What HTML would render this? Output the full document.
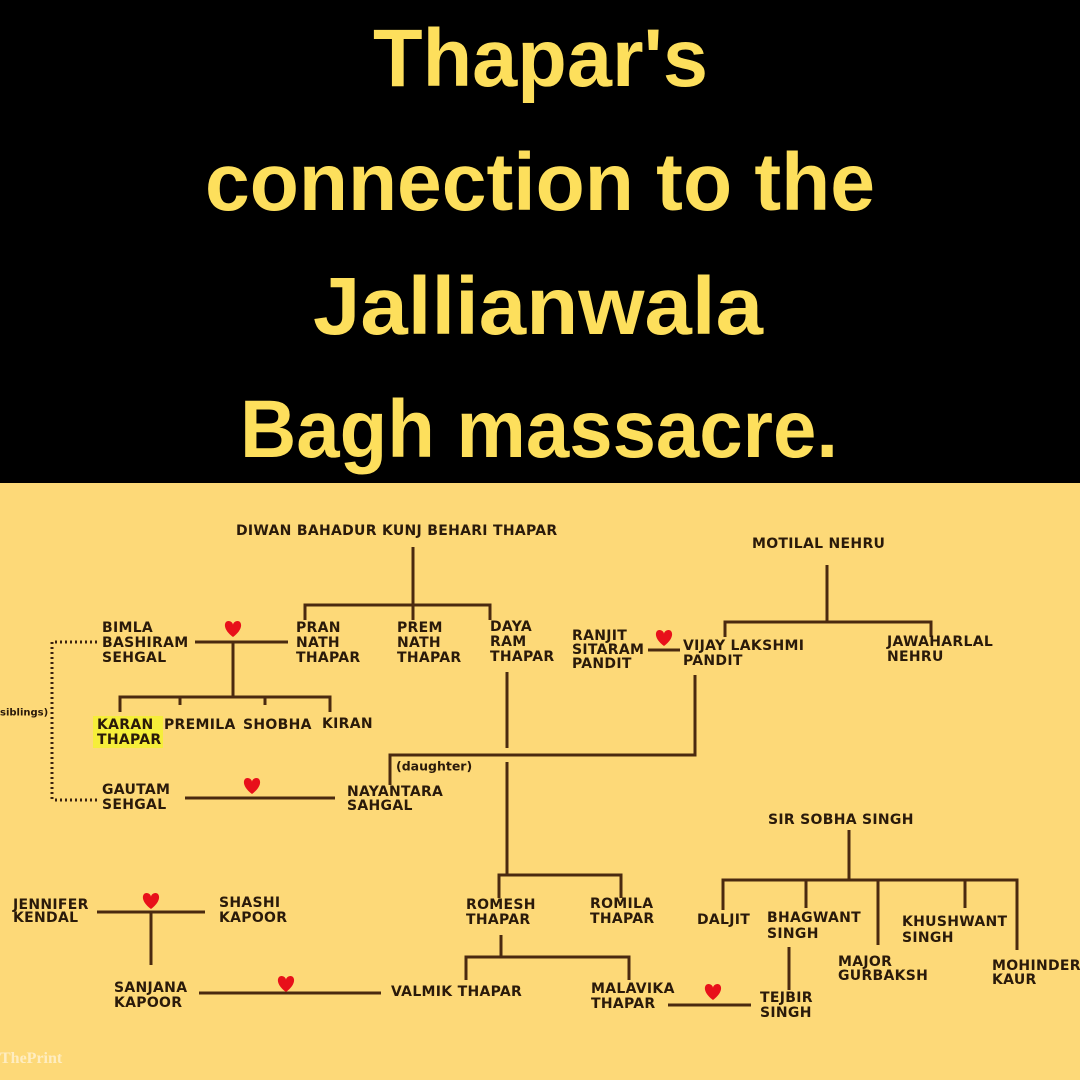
<!DOCTYPE html>
<html><head><meta charset="utf-8"><style>
html,body{margin:0;padding:0;width:1080px;height:1080px;overflow:hidden;background:#000}
svg{display:block}
.t{font-family:"Liberation Sans Narrow","Liberation Sans",sans-serif;font-weight:bold;fill:#fddf5c;font-size:82px}
.n{font-family:"DejaVu Sans","Liberation Sans",sans-serif;font-weight:bold;fill:#2a1a0a;font-size:14px;letter-spacing:0.3px}
.l{stroke:#4a2a10;stroke-width:3;fill:none}
</style></head><body>
<svg width="1080" height="1080" viewBox="0 0 1080 1080" xmlns="http://www.w3.org/2000/svg">
<rect x="0" y="0" width="1080" height="483" fill="#000"/>
<rect x="0" y="483" width="1080" height="597" fill="#fdd978"/>
<text class="t" x="373" y="86" textLength="335" lengthAdjust="spacingAndGlyphs">Thapar's</text>
<text class="t" x="205" y="210" textLength="670" lengthAdjust="spacingAndGlyphs">connection to the</text>
<text class="t" x="313" y="334" textLength="450" lengthAdjust="spacingAndGlyphs">Jallianwala</text>
<text class="t" x="240" y="457" textLength="598" lengthAdjust="spacingAndGlyphs">Bagh massacre.</text>

<defs><path id="h" d="M0,7 C-11,-1 -9,-9 -4.5,-9 C-2,-9 0,-7 0,-5 C0,-7 2,-9 4.5,-9 C9,-9 11,-1 0,7Z" fill="#e8101a"/></defs>

<g class="l">
<path d="M413,547V605M305,620V605H490V620M413,605V620"/>
<path d="M195,642H288M233,642V697M120,712V697H330V712M180,697V705M265,697V705"/>
<path d="M185,798H335"/>
<path d="M507,672V748M390,785V755H695V675M507,762V875M499,898V875H621V898"/>
<path d="M501,935V957M466,980V957H629V980"/>
<path d="M199,993H381M668,1005H751"/>
<path d="M97,912H205M151,912V965"/>
<path d="M827,565V622M725,637V622H931V637M648,650H680"/>
<path d="M849,830V880M723,910V880H1017V950M806,880V908M878,880V945M965,880V908M789,947V990"/>
</g>
<path d="M55,642H100M52,642V800M55,800H100" stroke="#3a2210" stroke-width="3" stroke-dasharray="2,3" fill="none"/>

<use href="#h" x="233" y="630"/>
<use href="#h" x="252" y="787"/>
<use href="#h" x="664" y="639"/>
<use href="#h" x="151" y="902"/>
<use href="#h" x="286" y="985"/>
<use href="#h" x="713" y="993"/>

<rect x="93" y="716" width="70" height="32" fill="#f6ee3a"/>
<g class="n" dominant-baseline="central">
<text x="236" y="531">DIWAN BAHADUR KUNJ BEHARI THAPAR</text>
<text x="296" y="628">PRAN</text><text x="296" y="643">NATH</text><text x="296" y="658">THAPAR</text>
<text x="397" y="628">PREM</text><text x="397" y="643">NATH</text><text x="397" y="658">THAPAR</text>
<text x="490" y="627">DAYA</text><text x="490" y="642">RAM</text><text x="490" y="657">THAPAR</text>
<text x="102" y="628">BIMLA</text><text x="102" y="643">BASHIRAM</text><text x="102" y="658">SEHGAL</text>
<text x="97" y="725">KARAN</text><text x="97" y="740">THAPAR</text>
<text x="164" y="725">PREMILA</text><text x="243" y="725">SHOBHA</text><text x="322" y="724">KIRAN</text>
<text x="0" y="713" style="font-size:10px;letter-spacing:0">siblings)</text>
<text x="102" y="790">GAUTAM</text><text x="102" y="805">SEHGAL</text>
<text x="347" y="792">NAYANTARA</text><text x="347" y="806">SAHGAL</text>
<text x="396" y="766" style="font-size:12.5px;letter-spacing:0">(daughter)</text>
<text x="752" y="544">MOTILAL NEHRU</text>
<text x="572" y="636">RANJIT</text><text x="572" y="650">SITARAM</text><text x="572" y="664">PANDIT</text>
<text x="683" y="646">VIJAY LAKSHMI</text><text x="683" y="661">PANDIT</text>
<text x="887" y="642">JAWAHARLAL</text><text x="887" y="657">NEHRU</text>
<text x="768" y="820">SIR SOBHA SINGH</text>
<text x="466" y="905">ROMESH</text><text x="466" y="920">THAPAR</text>
<text x="590" y="904">ROMILA</text><text x="590" y="919">THAPAR</text>
<text x="697" y="920">DALJIT</text>
<text x="767" y="918">BHAGWANT</text><text x="767" y="934">SINGH</text>
<text x="902" y="922">KHUSHWANT</text><text x="902" y="938">SINGH</text>
<text x="838" y="962">MAJOR</text><text x="838" y="976">GURBAKSH</text>
<text x="992" y="966">MOHINDER</text><text x="992" y="980">KAUR</text>
<text x="13" y="905">JENNIFER</text><text x="13" y="918">KENDAL</text>
<text x="219" y="903">SHASHI</text><text x="219" y="918">KAPOOR</text>
<text x="114" y="988">SANJANA</text><text x="114" y="1003">KAPOOR</text>
<text x="391" y="992">VALMIK THAPAR</text>
<text x="591" y="989">MALAVIKA</text><text x="591" y="1004">THAPAR</text>
<text x="760" y="998">TEJBIR</text><text x="760" y="1013">SINGH</text>
</g>
<text x="0" y="1063" font-family="Liberation Serif,serif" font-weight="bold" font-size="16" fill="#fff" opacity="0.55">ThePrint</text>
</svg>
</body></html>
